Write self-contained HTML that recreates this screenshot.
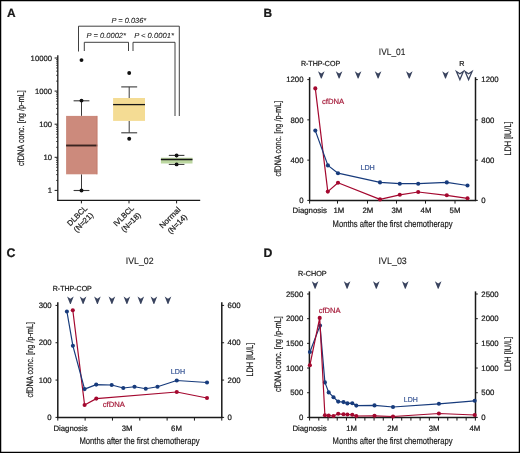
<!DOCTYPE html>
<html><head><meta charset="utf-8"><title>Figure</title>
<style>
html,body{margin:0;padding:0;background:#fff;}
body{width:520px;height:453px;overflow:hidden;font-family:"Liberation Sans", sans-serif;}
svg{display:block;will-change:transform;}
text{stroke:currentColor;stroke-width:0.22px;text-rendering:geometricPrecision;}
.cond{stroke-width:0.2px;}
.ttl{stroke-width:0.1px;}
.ital text{stroke-width:0.08px;}
</style></head>
<body>
<svg width="520" height="453" viewBox="0 0 520 453">
<rect x="0" y="0" width="520" height="453" fill="#fff"/>
<g font-family='"Liberation Sans", sans-serif' font-weight="bold">
<text x="7.0" y="16.9" font-size="11.9" text-anchor="start" fill="#1a1a1a" color="#1a1a1a"  style="">A</text>
<text x="263.4" y="16.9" font-size="11.9" text-anchor="start" fill="#1a1a1a" color="#1a1a1a"  style="">B</text>
<text x="6.6" y="256.6" font-size="12.4" text-anchor="start" fill="#1a1a1a" color="#1a1a1a"  style="">C</text>
<text x="263.5" y="257.1" font-size="12.3" text-anchor="start" fill="#1a1a1a" color="#1a1a1a"  style="">D</text>
</g>
<line x1="57.8" y1="55.2" x2="57.8" y2="201.0" stroke="#1a1a1a" stroke-width="1.3"/>
<line x1="57.199999999999996" y1="200.4" x2="200.2" y2="200.4" stroke="#1a1a1a" stroke-width="1.3"/>
<line x1="54.6" y1="190.4" x2="57.8" y2="190.4" stroke="#1a1a1a" stroke-width="1.0"/>
<text x="52.0" y="193.3" font-size="7.7" text-anchor="end" fill="#1a1a1a" color="#1a1a1a"  style="">1</text>
<line x1="56.0" y1="180.43590714352223" x2="57.8" y2="180.43590714352223" stroke="#1a1a1a" stroke-width="0.7"/>
<line x1="56.0" y1="174.6072864687792" x2="57.8" y2="174.6072864687792" stroke="#1a1a1a" stroke-width="0.7"/>
<line x1="56.0" y1="170.47181428704445" x2="57.8" y2="170.47181428704445" stroke="#1a1a1a" stroke-width="0.7"/>
<line x1="56.0" y1="167.2640928564778" x2="57.8" y2="167.2640928564778" stroke="#1a1a1a" stroke-width="0.7"/>
<line x1="56.0" y1="164.6431936123014" x2="57.8" y2="164.6431936123014" stroke="#1a1a1a" stroke-width="0.7"/>
<line x1="56.0" y1="162.4272548755281" x2="57.8" y2="162.4272548755281" stroke="#1a1a1a" stroke-width="0.7"/>
<line x1="56.0" y1="160.50772143056668" x2="57.8" y2="160.50772143056668" stroke="#1a1a1a" stroke-width="0.7"/>
<line x1="56.0" y1="158.81457293755835" x2="57.8" y2="158.81457293755835" stroke="#1a1a1a" stroke-width="0.7"/>
<line x1="54.6" y1="157.3" x2="57.8" y2="157.3" stroke="#1a1a1a" stroke-width="1.0"/>
<text x="52.0" y="160.20000000000002" font-size="7.7" text-anchor="end" fill="#1a1a1a" color="#1a1a1a"  style="">10</text>
<line x1="56.0" y1="147.33590714352223" x2="57.8" y2="147.33590714352223" stroke="#1a1a1a" stroke-width="0.7"/>
<line x1="56.0" y1="141.50728646877917" x2="57.8" y2="141.50728646877917" stroke="#1a1a1a" stroke-width="0.7"/>
<line x1="56.0" y1="137.37181428704446" x2="57.8" y2="137.37181428704446" stroke="#1a1a1a" stroke-width="0.7"/>
<line x1="56.0" y1="134.1640928564778" x2="57.8" y2="134.1640928564778" stroke="#1a1a1a" stroke-width="0.7"/>
<line x1="56.0" y1="131.5431936123014" x2="57.8" y2="131.5431936123014" stroke="#1a1a1a" stroke-width="0.7"/>
<line x1="56.0" y1="129.3272548755281" x2="57.8" y2="129.3272548755281" stroke="#1a1a1a" stroke-width="0.7"/>
<line x1="56.0" y1="127.40772143056668" x2="57.8" y2="127.40772143056668" stroke="#1a1a1a" stroke-width="0.7"/>
<line x1="56.0" y1="125.71457293755836" x2="57.8" y2="125.71457293755836" stroke="#1a1a1a" stroke-width="0.7"/>
<line x1="54.6" y1="124.2" x2="57.8" y2="124.2" stroke="#1a1a1a" stroke-width="1.0"/>
<text x="52.0" y="127.10000000000001" font-size="7.7" text-anchor="end" fill="#1a1a1a" color="#1a1a1a"  style="">100</text>
<line x1="56.0" y1="114.23590714352223" x2="57.8" y2="114.23590714352223" stroke="#1a1a1a" stroke-width="0.7"/>
<line x1="56.0" y1="108.40728646877918" x2="57.8" y2="108.40728646877918" stroke="#1a1a1a" stroke-width="0.7"/>
<line x1="56.0" y1="104.27181428704445" x2="57.8" y2="104.27181428704445" stroke="#1a1a1a" stroke-width="0.7"/>
<line x1="56.0" y1="101.06409285647777" x2="57.8" y2="101.06409285647777" stroke="#1a1a1a" stroke-width="0.7"/>
<line x1="56.0" y1="98.4431936123014" x2="57.8" y2="98.4431936123014" stroke="#1a1a1a" stroke-width="0.7"/>
<line x1="56.0" y1="96.2272548755281" x2="57.8" y2="96.2272548755281" stroke="#1a1a1a" stroke-width="0.7"/>
<line x1="56.0" y1="94.30772143056667" x2="57.8" y2="94.30772143056667" stroke="#1a1a1a" stroke-width="0.7"/>
<line x1="56.0" y1="92.61457293755835" x2="57.8" y2="92.61457293755835" stroke="#1a1a1a" stroke-width="0.7"/>
<line x1="54.6" y1="91.1" x2="57.8" y2="91.1" stroke="#1a1a1a" stroke-width="1.0"/>
<text x="52.0" y="94.0" font-size="7.7" text-anchor="end" fill="#1a1a1a" color="#1a1a1a"  style="">1000</text>
<line x1="56.0" y1="81.13590714352222" x2="57.8" y2="81.13590714352222" stroke="#1a1a1a" stroke-width="0.7"/>
<line x1="56.0" y1="75.30728646877917" x2="57.8" y2="75.30728646877917" stroke="#1a1a1a" stroke-width="0.7"/>
<line x1="56.0" y1="71.17181428704444" x2="57.8" y2="71.17181428704444" stroke="#1a1a1a" stroke-width="0.7"/>
<line x1="56.0" y1="67.96409285647778" x2="57.8" y2="67.96409285647778" stroke="#1a1a1a" stroke-width="0.7"/>
<line x1="56.0" y1="65.34319361230139" x2="57.8" y2="65.34319361230139" stroke="#1a1a1a" stroke-width="0.7"/>
<line x1="56.0" y1="63.127254875528095" x2="57.8" y2="63.127254875528095" stroke="#1a1a1a" stroke-width="0.7"/>
<line x1="56.0" y1="61.207721430566664" x2="57.8" y2="61.207721430566664" stroke="#1a1a1a" stroke-width="0.7"/>
<line x1="56.0" y1="59.51457293755834" x2="57.8" y2="59.51457293755834" stroke="#1a1a1a" stroke-width="0.7"/>
<line x1="54.6" y1="58.0" x2="57.8" y2="58.0" stroke="#1a1a1a" stroke-width="1.0"/>
<text x="52.0" y="60.9" font-size="7.7" text-anchor="end" fill="#1a1a1a" color="#1a1a1a"  style="">10000</text>
<line x1="81.4" y1="200.4" x2="81.4" y2="203.4" stroke="#1a1a1a" stroke-width="1.0"/>
<line x1="129.0" y1="200.4" x2="129.0" y2="203.4" stroke="#1a1a1a" stroke-width="1.0"/>
<line x1="176.6" y1="200.4" x2="176.6" y2="203.4" stroke="#1a1a1a" stroke-width="1.0"/>
<line x1="81.5" y1="100.8" x2="81.5" y2="115.9" stroke="#3a3a3a" stroke-width="1.0"/>
<line x1="81.5" y1="174.3" x2="81.5" y2="190.5" stroke="#3a3a3a" stroke-width="1.0"/>
<line x1="73.6" y1="100.8" x2="89.4" y2="100.8" stroke="#3a3a3a" stroke-width="1.1"/>
<line x1="73.6" y1="190.5" x2="89.4" y2="190.5" stroke="#3a3a3a" stroke-width="1.1"/>
<rect x="66.1" y="115.9" width="31.200000000000003" height="58.400000000000006" fill="#cc8a7c"/>
<line x1="66.1" y1="145.5" x2="97.3" y2="145.5" stroke="#3a2420" stroke-width="1.9"/>
<rect x="96.5" y="115.9" width="0.9" height="58.4" fill="#c47a6c"/>
<line x1="129.2" y1="86.9" x2="129.2" y2="98.0" stroke="#3a3a3a" stroke-width="1.0"/>
<line x1="129.2" y1="120.9" x2="129.2" y2="132.8" stroke="#3a3a3a" stroke-width="1.0"/>
<line x1="121.24999999999999" y1="86.9" x2="137.14999999999998" y2="86.9" stroke="#3a3a3a" stroke-width="1.1"/>
<line x1="121.24999999999999" y1="132.8" x2="137.14999999999998" y2="132.8" stroke="#3a3a3a" stroke-width="1.1"/>
<rect x="113.1" y="98.0" width="31.900000000000006" height="22.900000000000006" fill="#f4dc94"/>
<line x1="113.1" y1="104.6" x2="145.0" y2="104.6" stroke="#151515" stroke-width="1.3"/>
<line x1="176.6" y1="155.4" x2="176.6" y2="157.7" stroke="#3a3a3a" stroke-width="1.0"/>
<line x1="176.6" y1="163.5" x2="176.6" y2="164.4" stroke="#3a3a3a" stroke-width="1.0"/>
<line x1="168.79999999999998" y1="155.4" x2="184.4" y2="155.4" stroke="#3a3a3a" stroke-width="1.1"/>
<line x1="168.79999999999998" y1="164.4" x2="184.4" y2="164.4" stroke="#3a3a3a" stroke-width="1.1"/>
<rect x="160.9" y="157.7" width="31.599999999999994" height="5.800000000000011" fill="#bcd7a0"/>
<line x1="160.9" y1="159.5" x2="192.5" y2="159.5" stroke="#151515" stroke-width="1.3"/>
<circle cx="81.5" cy="60.1" r="1.95" fill="#111"/>
<circle cx="81.5" cy="100.6" r="1.95" fill="#111"/>
<circle cx="81.5" cy="190.5" r="1.95" fill="#111"/>
<circle cx="129.2" cy="73.0" r="1.95" fill="#111"/>
<circle cx="129.2" cy="138.8" r="1.95" fill="#111"/>
<circle cx="176.6" cy="155.4" r="1.95" fill="#111"/>
<circle cx="176.6" cy="164.4" r="1.95" fill="#111"/>
<path d="M78.5,51.5 V26.2 H179.3 V116" fill="none" stroke="#2a2a2a" stroke-width="0.9"/>
<path d="M84.3,51 V42.3 H128.5 V51" fill="none" stroke="#2a2a2a" stroke-width="0.9"/>
<path d="M133,51 V42.3 H175 V116" fill="none" stroke="#2a2a2a" stroke-width="0.9"/>
<g font-family='"Liberation Sans", sans-serif' font-style="italic" class="ital">
<text x="128.9" y="22.6" font-size="7.4" text-anchor="middle" fill="#1a1a1a" color="#1a1a1a" textLength="34.7" lengthAdjust="spacingAndGlyphs"  style="">P = 0.036*</text>
<text x="106.3" y="38.0" font-size="7.4" text-anchor="middle" fill="#1a1a1a" color="#1a1a1a" textLength="39.4" lengthAdjust="spacingAndGlyphs"  style="">P = 0.0002*</text>
<text x="154.0" y="38.0" font-size="7.4" text-anchor="middle" fill="#1a1a1a" color="#1a1a1a" textLength="39.7" lengthAdjust="spacingAndGlyphs"  style="">P &lt; 0.0001*</text>
</g>
<g font-family='"Liberation Sans", sans-serif'>
<text transform="translate(24.2,128.1) rotate(-90) scale(0.7886,1)" x="0" y="0" font-size="9.4" text-anchor="middle" fill="#1a1a1a" color="#1a1a1a" class="cond">cfDNA conc. [ng /p-mL]</text>
<text transform="translate(79.00,217.65) rotate(-45)" x="0" y="0" font-size="7.8" text-anchor="middle" fill="#1a1a1a" color="#1a1a1a" textLength="24.7" lengthAdjust="spacingAndGlyphs">DLBCL</text>
<text transform="translate(125.50,217.85) rotate(-45)" x="0" y="0" font-size="7.8" text-anchor="middle" fill="#1a1a1a" color="#1a1a1a" textLength="25.5" lengthAdjust="spacingAndGlyphs">IVLBCL</text>
<text transform="translate(171.70,219.55) rotate(-45)" x="0" y="0" font-size="7.8" text-anchor="middle" fill="#1a1a1a" color="#1a1a1a" textLength="26.1" lengthAdjust="spacingAndGlyphs">Normal</text>
<text transform="translate(85.30,224.2) rotate(-45)" x="0" y="0" font-size="7.8" text-anchor="middle" fill="#1a1a1a" color="#1a1a1a" textLength="23.9" lengthAdjust="spacingAndGlyphs">(N=21)</text>
<text transform="translate(132.80,224.1) rotate(-45)" x="0" y="0" font-size="7.8" text-anchor="middle" fill="#1a1a1a" color="#1a1a1a" textLength="23.9" lengthAdjust="spacingAndGlyphs">(N=18)</text>
<text transform="translate(179.10,225.9) rotate(-45)" x="0" y="0" font-size="7.8" text-anchor="middle" fill="#1a1a1a" color="#1a1a1a" textLength="23.9" lengthAdjust="spacingAndGlyphs">(N=14)</text>
</g>
<g font-family='"Liberation Sans", sans-serif'>
<line x1="309.6" y1="77.2" x2="309.6" y2="201.1" stroke="#1a1a1a" stroke-width="1.5"/>
<line x1="475.5" y1="77.2" x2="475.5" y2="201.1" stroke="#1a1a1a" stroke-width="1.5"/>
<line x1="308.90000000000003" y1="200.4" x2="476.2" y2="200.4" stroke="#1a1a1a" stroke-width="1.5"/>
<line x1="307.3" y1="200.4" x2="309.6" y2="200.4" stroke="#1a1a1a" stroke-width="1.0"/>
<text x="303.5" y="203.15" font-size="7.8" text-anchor="end" fill="#1a1a1a" color="#1a1a1a"  style="">0</text>
<line x1="307.3" y1="160.13" x2="309.6" y2="160.13" stroke="#1a1a1a" stroke-width="1.0"/>
<text x="303.5" y="162.88" font-size="7.8" text-anchor="end" fill="#1a1a1a" color="#1a1a1a"  style="">400</text>
<line x1="307.3" y1="119.86" x2="309.6" y2="119.86" stroke="#1a1a1a" stroke-width="1.0"/>
<text x="303.5" y="122.61" font-size="7.8" text-anchor="end" fill="#1a1a1a" color="#1a1a1a"  style="">800</text>
<line x1="307.3" y1="79.59" x2="309.6" y2="79.59" stroke="#1a1a1a" stroke-width="1.0"/>
<text x="303.5" y="82.34" font-size="7.8" text-anchor="end" fill="#1a1a1a" color="#1a1a1a"  style="">1200</text>
<line x1="475.5" y1="200.4" x2="477.8" y2="200.4" stroke="#1a1a1a" stroke-width="1.0"/>
<text x="481.3" y="203.15" font-size="7.8" text-anchor="start" fill="#1a1a1a" color="#1a1a1a"  style="">0</text>
<line x1="475.5" y1="160.13" x2="477.8" y2="160.13" stroke="#1a1a1a" stroke-width="1.0"/>
<text x="481.3" y="162.88" font-size="7.8" text-anchor="start" fill="#1a1a1a" color="#1a1a1a"  style="">400</text>
<line x1="475.5" y1="119.86" x2="477.8" y2="119.86" stroke="#1a1a1a" stroke-width="1.0"/>
<text x="481.3" y="122.61" font-size="7.8" text-anchor="start" fill="#1a1a1a" color="#1a1a1a"  style="">800</text>
<line x1="475.5" y1="79.59" x2="477.8" y2="79.59" stroke="#1a1a1a" stroke-width="1.0"/>
<text x="481.3" y="82.34" font-size="7.8" text-anchor="start" fill="#1a1a1a" color="#1a1a1a"  style="">1200</text>
<line x1="309.6" y1="200.4" x2="309.6" y2="203.6" stroke="#1a1a1a" stroke-width="1.0"/>
<line x1="337.5" y1="200.4" x2="337.5" y2="203.6" stroke="#1a1a1a" stroke-width="1.0"/>
<line x1="367.5" y1="200.4" x2="367.5" y2="203.6" stroke="#1a1a1a" stroke-width="1.0"/>
<line x1="396.5" y1="200.4" x2="396.5" y2="203.6" stroke="#1a1a1a" stroke-width="1.0"/>
<line x1="425.5" y1="200.4" x2="425.5" y2="203.6" stroke="#1a1a1a" stroke-width="1.0"/>
<line x1="455.0" y1="200.4" x2="455.0" y2="203.6" stroke="#1a1a1a" stroke-width="1.0"/>
<text x="309.7" y="213.3" font-size="7.8" text-anchor="middle" fill="#1a1a1a" color="#1a1a1a"  style="">Diagnosis</text>
<text x="338.9" y="213.3" font-size="7.8" text-anchor="middle" fill="#1a1a1a" color="#1a1a1a"  style="">1M</text>
<text x="367.8" y="213.3" font-size="7.8" text-anchor="middle" fill="#1a1a1a" color="#1a1a1a"  style="">2M</text>
<text x="396.8" y="213.3" font-size="7.8" text-anchor="middle" fill="#1a1a1a" color="#1a1a1a"  style="">3M</text>
<text x="426.0" y="213.3" font-size="7.8" text-anchor="middle" fill="#1a1a1a" color="#1a1a1a"  style="">4M</text>
<text x="455.0" y="213.3" font-size="7.8" text-anchor="middle" fill="#1a1a1a" color="#1a1a1a"  style="">5M</text>
<text transform="translate(392.5,226.7) scale(0.8131,1)" x="0" y="0" font-size="9.4" text-anchor="middle" fill="#1a1a1a" color="#1a1a1a" class="cond">Months after the first chemotherapy</text>
<text transform="translate(280.6,138.55) rotate(-90) scale(0.7855,1)" x="0" y="0" font-size="9.4" text-anchor="middle" fill="#1a1a1a" color="#1a1a1a" class="cond">cfDNA conc. [ng /p-mL]</text>
<text transform="translate(511.2,138.55) rotate(-90) scale(0.7772,1)" x="0" y="0" font-size="9.4" text-anchor="middle" fill="#1a1a1a" color="#1a1a1a" class="cond">LDH [IU/L]</text>
<text x="378.8" y="54.5" font-size="9.4" text-anchor="start" fill="#1a1a1a" color="#1a1a1a" textLength="26.6" lengthAdjust="spacingAndGlyphs" class="ttl" style="">IVL_01</text>
<text x="300.9" y="66.4" font-size="7.3" text-anchor="start" fill="#1a1a1a" color="#1a1a1a" textLength="39.3" lengthAdjust="spacingAndGlyphs"  style="">R-THP-COP</text>
<path d="M318.00,71.2 L321.30,73.50 L324.60,71.2 L321.65,78.60 L320.95,78.60 Z" fill="#39435e"/>
<path d="M335.80,71.2 L339.10,73.50 L342.40,71.2 L339.45,78.60 L338.75,78.60 Z" fill="#39435e"/>
<path d="M354.80,71.2 L358.10,73.50 L361.40,71.2 L358.45,78.60 L357.75,78.60 Z" fill="#39435e"/>
<path d="M374.80,71.2 L378.10,73.50 L381.40,71.2 L378.45,78.60 L377.75,78.60 Z" fill="#39435e"/>
<path d="M406.00,71.2 L409.30,73.50 L412.60,71.2 L409.65,78.60 L408.95,78.60 Z" fill="#39435e"/>
<path d="M442.20,71.2 L445.50,73.50 L448.80,71.2 L445.85,78.60 L445.15,78.60 Z" fill="#39435e"/>
<path d="M456.40,71.5 L459.90,73.80 L463.40,71.5 L459.90,79.60 Z" fill="none" stroke="#39435e" stroke-width="1.25" stroke-linejoin="miter"/>
<path d="M465.10,71.5 L468.60,73.80 L472.10,71.5 L468.60,79.60 Z" fill="none" stroke="#39435e" stroke-width="1.25" stroke-linejoin="miter"/>
<text x="461.9" y="66.4" font-size="7.2" text-anchor="middle" fill="#1a1a1a" color="#1a1a1a"  style="">R</text>
</g>
<polyline points="315.3,88.4 327.8,191.6 338,182.7 380,199.4 399.8,194.8 418.2,192 446.8,195.3 467.5,198.3" fill="none" stroke="#a4082f" stroke-width="1.2" stroke-linejoin="round"/>
<circle cx="315.3" cy="88.4" r="2.05" fill="#a4082f"/>
<circle cx="327.8" cy="191.6" r="2.05" fill="#a4082f"/>
<circle cx="338" cy="182.7" r="2.05" fill="#a4082f"/>
<circle cx="380" cy="199.4" r="2.05" fill="#a4082f"/>
<circle cx="399.8" cy="194.8" r="2.05" fill="#a4082f"/>
<circle cx="418.2" cy="192" r="2.05" fill="#a4082f"/>
<circle cx="446.8" cy="195.3" r="2.05" fill="#a4082f"/>
<circle cx="467.5" cy="198.3" r="2.05" fill="#a4082f"/>
<polyline points="315.3,130.6 327.9,165.4 338,173.2 380,182.4 399.8,183.7 418.2,183.7 446.8,182.4 467.5,185.5" fill="none" stroke="#173b7c" stroke-width="1.2" stroke-linejoin="round"/>
<circle cx="315.3" cy="130.6" r="2.05" fill="#173b7c"/>
<circle cx="327.9" cy="165.4" r="2.05" fill="#173b7c"/>
<circle cx="338" cy="173.2" r="2.05" fill="#173b7c"/>
<circle cx="380" cy="182.4" r="2.05" fill="#173b7c"/>
<circle cx="399.8" cy="183.7" r="2.05" fill="#173b7c"/>
<circle cx="418.2" cy="183.7" r="2.05" fill="#173b7c"/>
<circle cx="446.8" cy="182.4" r="2.05" fill="#173b7c"/>
<circle cx="467.5" cy="185.5" r="2.05" fill="#173b7c"/>
<g font-family='"Liberation Sans", sans-serif'>
<text x="360.4" y="169.6" font-size="7.2" text-anchor="start" fill="#3d5a98" color="#3d5a98" textLength="14.4" lengthAdjust="spacingAndGlyphs"  style="">LDH</text>
<text x="322.0" y="104.0" font-size="7.6" text-anchor="start" fill="#a8213f" color="#a8213f" textLength="22.2" lengthAdjust="spacingAndGlyphs"  style="">cfDNA</text>
</g>
<g font-family='"Liberation Sans", sans-serif'>
<line x1="57.8" y1="302.3" x2="57.8" y2="418.09999999999997" stroke="#1a1a1a" stroke-width="1.5"/>
<line x1="221.8" y1="302.3" x2="221.8" y2="418.09999999999997" stroke="#1a1a1a" stroke-width="1.5"/>
<line x1="57.099999999999994" y1="417.4" x2="222.5" y2="417.4" stroke="#1a1a1a" stroke-width="1.5"/>
<line x1="55.5" y1="417.4" x2="57.8" y2="417.4" stroke="#1a1a1a" stroke-width="1.0"/>
<text x="51.699999999999996" y="420.15" font-size="7.8" text-anchor="end" fill="#1a1a1a" color="#1a1a1a"  style="">0</text>
<line x1="55.5" y1="380.07" x2="57.8" y2="380.07" stroke="#1a1a1a" stroke-width="1.0"/>
<text x="51.699999999999996" y="382.82" font-size="7.8" text-anchor="end" fill="#1a1a1a" color="#1a1a1a"  style="">100</text>
<line x1="55.5" y1="342.74" x2="57.8" y2="342.74" stroke="#1a1a1a" stroke-width="1.0"/>
<text x="51.699999999999996" y="345.49" font-size="7.8" text-anchor="end" fill="#1a1a1a" color="#1a1a1a"  style="">200</text>
<line x1="55.5" y1="305.40999999999997" x2="57.8" y2="305.40999999999997" stroke="#1a1a1a" stroke-width="1.0"/>
<text x="51.699999999999996" y="308.15999999999997" font-size="7.8" text-anchor="end" fill="#1a1a1a" color="#1a1a1a"  style="">300</text>
<line x1="221.8" y1="417.4" x2="224.10000000000002" y2="417.4" stroke="#1a1a1a" stroke-width="1.0"/>
<text x="227.60000000000002" y="420.15" font-size="7.8" text-anchor="start" fill="#1a1a1a" color="#1a1a1a"  style="">0</text>
<line x1="221.8" y1="380.07" x2="224.10000000000002" y2="380.07" stroke="#1a1a1a" stroke-width="1.0"/>
<text x="227.60000000000002" y="382.82" font-size="7.8" text-anchor="start" fill="#1a1a1a" color="#1a1a1a"  style="">200</text>
<line x1="221.8" y1="342.74" x2="224.10000000000002" y2="342.74" stroke="#1a1a1a" stroke-width="1.0"/>
<text x="227.60000000000002" y="345.49" font-size="7.8" text-anchor="start" fill="#1a1a1a" color="#1a1a1a"  style="">400</text>
<line x1="221.8" y1="305.40999999999997" x2="224.10000000000002" y2="305.40999999999997" stroke="#1a1a1a" stroke-width="1.0"/>
<text x="227.60000000000002" y="308.15999999999997" font-size="7.8" text-anchor="start" fill="#1a1a1a" color="#1a1a1a"  style="">600</text>
<line x1="57.8" y1="417.4" x2="57.8" y2="420.59999999999997" stroke="#1a1a1a" stroke-width="1.0"/>
<line x1="85.13" y1="417.4" x2="85.13" y2="420.59999999999997" stroke="#1a1a1a" stroke-width="1.0"/>
<line x1="112.46" y1="417.4" x2="112.46" y2="420.59999999999997" stroke="#1a1a1a" stroke-width="1.0"/>
<line x1="139.79" y1="417.4" x2="139.79" y2="420.59999999999997" stroke="#1a1a1a" stroke-width="1.0"/>
<line x1="167.12" y1="417.4" x2="167.12" y2="420.59999999999997" stroke="#1a1a1a" stroke-width="1.0"/>
<line x1="194.45" y1="417.4" x2="194.45" y2="420.59999999999997" stroke="#1a1a1a" stroke-width="1.0"/>
<line x1="221.77999999999997" y1="417.4" x2="221.77999999999997" y2="420.59999999999997" stroke="#1a1a1a" stroke-width="1.0"/>
<text x="70.5" y="430.9" font-size="7.8" text-anchor="middle" fill="#1a1a1a" color="#1a1a1a"  style="">Diagnosis</text>
<text x="127.1" y="430.9" font-size="7.8" text-anchor="middle" fill="#1a1a1a" color="#1a1a1a"  style="">3M</text>
<text x="176.5" y="430.9" font-size="7.8" text-anchor="middle" fill="#1a1a1a" color="#1a1a1a"  style="">6M</text>
<text transform="translate(139.55,443.8) scale(0.8152,1)" x="0" y="0" font-size="9.4" text-anchor="middle" fill="#1a1a1a" color="#1a1a1a" class="cond">Months after the first chemotherapy</text>
<text transform="translate(33.0,359.65) rotate(-90) scale(0.7835,1)" x="0" y="0" font-size="9.4" text-anchor="middle" fill="#1a1a1a" color="#1a1a1a" class="cond">cfDNA conc. [ng /p-mL]</text>
<text transform="translate(252.6,359.65) rotate(-90) scale(0.7727,1)" x="0" y="0" font-size="9.4" text-anchor="middle" fill="#1a1a1a" color="#1a1a1a" class="cond">LDH [IU/L]</text>
<text x="125.8" y="264.2" font-size="9.4" text-anchor="start" fill="#1a1a1a" color="#1a1a1a" textLength="27.8" lengthAdjust="spacingAndGlyphs" class="ttl" style="">IVL_02</text>
<text x="52.8" y="290.8" font-size="7.3" text-anchor="start" fill="#1a1a1a" color="#1a1a1a" textLength="39.0" lengthAdjust="spacingAndGlyphs"  style="">R-THP-COP</text>
<path d="M67.10,296.5 L70.40,298.80 L73.70,296.5 L70.75,303.90 L70.05,303.90 Z" fill="#39435e"/>
<path d="M79.80,296.5 L83.10,298.80 L86.40,296.5 L83.45,303.90 L82.75,303.90 Z" fill="#39435e"/>
<path d="M94.10,296.5 L97.40,298.80 L100.70,296.5 L97.75,303.90 L97.05,303.90 Z" fill="#39435e"/>
<path d="M108.60,296.5 L111.90,298.80 L115.20,296.5 L112.25,303.90 L111.55,303.90 Z" fill="#39435e"/>
<path d="M123.60,296.5 L126.90,298.80 L130.20,296.5 L127.25,303.90 L126.55,303.90 Z" fill="#39435e"/>
<path d="M137.50,296.5 L140.80,298.80 L144.10,296.5 L141.15,303.90 L140.45,303.90 Z" fill="#39435e"/>
<path d="M150.60,296.5 L153.90,298.80 L157.20,296.5 L154.25,303.90 L153.55,303.90 Z" fill="#39435e"/>
<path d="M164.70,296.5 L168.00,298.80 L171.30,296.5 L168.35,303.90 L167.65,303.90 Z" fill="#39435e"/>
</g>
<polyline points="72.8,310.3 84.6,405 96.3,398.6 176.75,392 207,398" fill="none" stroke="#a4082f" stroke-width="1.2" stroke-linejoin="round"/>
<circle cx="72.8" cy="310.3" r="2.05" fill="#a4082f"/>
<circle cx="84.6" cy="405" r="2.05" fill="#a4082f"/>
<circle cx="96.3" cy="398.6" r="2.05" fill="#a4082f"/>
<circle cx="176.75" cy="392" r="2.05" fill="#a4082f"/>
<circle cx="207" cy="398" r="2.05" fill="#a4082f"/>
<polyline points="66.9,311.5 72.9,345.8 84.6,389.1 96.2,384.6 111.7,385 123.3,388 134.5,386.75 145.75,388.75 157.5,386.75 176.75,380.5 207,382.5" fill="none" stroke="#173b7c" stroke-width="1.2" stroke-linejoin="round"/>
<circle cx="66.9" cy="311.5" r="2.05" fill="#173b7c"/>
<circle cx="72.9" cy="345.8" r="2.05" fill="#173b7c"/>
<circle cx="84.6" cy="389.1" r="2.05" fill="#173b7c"/>
<circle cx="96.2" cy="384.6" r="2.05" fill="#173b7c"/>
<circle cx="111.7" cy="385" r="2.05" fill="#173b7c"/>
<circle cx="123.3" cy="388" r="2.05" fill="#173b7c"/>
<circle cx="134.5" cy="386.75" r="2.05" fill="#173b7c"/>
<circle cx="145.75" cy="388.75" r="2.05" fill="#173b7c"/>
<circle cx="157.5" cy="386.75" r="2.05" fill="#173b7c"/>
<circle cx="176.75" cy="380.5" r="2.05" fill="#173b7c"/>
<circle cx="207" cy="382.5" r="2.05" fill="#173b7c"/>
<g font-family='"Liberation Sans", sans-serif'>
<text x="170.75" y="374.1" font-size="7.2" text-anchor="start" fill="#3d5a98" color="#3d5a98" textLength="14.3" lengthAdjust="spacingAndGlyphs"  style="">LDH</text>
<text x="102.7" y="407.2" font-size="7.6" text-anchor="start" fill="#a8213f" color="#a8213f" textLength="22.1" lengthAdjust="spacingAndGlyphs"  style="">cfDNA</text>
</g>
<g font-family='"Liberation Sans", sans-serif'>
<line x1="309.4" y1="291.4" x2="309.4" y2="418.09999999999997" stroke="#1a1a1a" stroke-width="1.5"/>
<line x1="475.5" y1="291.4" x2="475.5" y2="418.09999999999997" stroke="#1a1a1a" stroke-width="1.5"/>
<line x1="308.7" y1="417.4" x2="476.2" y2="417.4" stroke="#1a1a1a" stroke-width="1.5"/>
<line x1="307.09999999999997" y1="417.4" x2="309.4" y2="417.4" stroke="#1a1a1a" stroke-width="1.0"/>
<text x="303.29999999999995" y="420.15" font-size="7.8" text-anchor="end" fill="#1a1a1a" color="#1a1a1a"  style="">0</text>
<line x1="307.09999999999997" y1="392.71999999999997" x2="309.4" y2="392.71999999999997" stroke="#1a1a1a" stroke-width="1.0"/>
<text x="303.29999999999995" y="395.46999999999997" font-size="7.8" text-anchor="end" fill="#1a1a1a" color="#1a1a1a"  style="">500</text>
<line x1="307.09999999999997" y1="368.03999999999996" x2="309.4" y2="368.03999999999996" stroke="#1a1a1a" stroke-width="1.0"/>
<text x="303.29999999999995" y="370.78999999999996" font-size="7.8" text-anchor="end" fill="#1a1a1a" color="#1a1a1a"  style="">1000</text>
<line x1="307.09999999999997" y1="343.36" x2="309.4" y2="343.36" stroke="#1a1a1a" stroke-width="1.0"/>
<text x="303.29999999999995" y="346.11" font-size="7.8" text-anchor="end" fill="#1a1a1a" color="#1a1a1a"  style="">1500</text>
<line x1="307.09999999999997" y1="318.67999999999995" x2="309.4" y2="318.67999999999995" stroke="#1a1a1a" stroke-width="1.0"/>
<text x="303.29999999999995" y="321.42999999999995" font-size="7.8" text-anchor="end" fill="#1a1a1a" color="#1a1a1a"  style="">2000</text>
<line x1="307.09999999999997" y1="294.0" x2="309.4" y2="294.0" stroke="#1a1a1a" stroke-width="1.0"/>
<text x="303.29999999999995" y="296.75" font-size="7.8" text-anchor="end" fill="#1a1a1a" color="#1a1a1a"  style="">2500</text>
<line x1="475.5" y1="417.4" x2="477.8" y2="417.4" stroke="#1a1a1a" stroke-width="1.0"/>
<text x="481.3" y="420.15" font-size="7.8" text-anchor="start" fill="#1a1a1a" color="#1a1a1a"  style="">0</text>
<line x1="475.5" y1="392.71999999999997" x2="477.8" y2="392.71999999999997" stroke="#1a1a1a" stroke-width="1.0"/>
<text x="481.3" y="395.46999999999997" font-size="7.8" text-anchor="start" fill="#1a1a1a" color="#1a1a1a"  style="">500</text>
<line x1="475.5" y1="368.03999999999996" x2="477.8" y2="368.03999999999996" stroke="#1a1a1a" stroke-width="1.0"/>
<text x="481.3" y="370.78999999999996" font-size="7.8" text-anchor="start" fill="#1a1a1a" color="#1a1a1a"  style="">1000</text>
<line x1="475.5" y1="343.36" x2="477.8" y2="343.36" stroke="#1a1a1a" stroke-width="1.0"/>
<text x="481.3" y="346.11" font-size="7.8" text-anchor="start" fill="#1a1a1a" color="#1a1a1a"  style="">1500</text>
<line x1="475.5" y1="318.67999999999995" x2="477.8" y2="318.67999999999995" stroke="#1a1a1a" stroke-width="1.0"/>
<text x="481.3" y="321.42999999999995" font-size="7.8" text-anchor="start" fill="#1a1a1a" color="#1a1a1a"  style="">2000</text>
<line x1="475.5" y1="294.0" x2="477.8" y2="294.0" stroke="#1a1a1a" stroke-width="1.0"/>
<text x="481.3" y="296.75" font-size="7.8" text-anchor="start" fill="#1a1a1a" color="#1a1a1a"  style="">2500</text>
<line x1="309.6" y1="417.4" x2="309.6" y2="420.59999999999997" stroke="#1a1a1a" stroke-width="1.0"/>
<line x1="318.81" y1="417.4" x2="318.81" y2="420.59999999999997" stroke="#1a1a1a" stroke-width="1.0"/>
<line x1="328.02000000000004" y1="417.4" x2="328.02000000000004" y2="420.59999999999997" stroke="#1a1a1a" stroke-width="1.0"/>
<line x1="337.23" y1="417.4" x2="337.23" y2="420.59999999999997" stroke="#1a1a1a" stroke-width="1.0"/>
<line x1="346.44000000000005" y1="417.4" x2="346.44000000000005" y2="420.59999999999997" stroke="#1a1a1a" stroke-width="1.0"/>
<line x1="355.65000000000003" y1="417.4" x2="355.65000000000003" y2="420.59999999999997" stroke="#1a1a1a" stroke-width="1.0"/>
<line x1="364.86" y1="417.4" x2="364.86" y2="420.59999999999997" stroke="#1a1a1a" stroke-width="1.0"/>
<line x1="374.07000000000005" y1="417.4" x2="374.07000000000005" y2="420.59999999999997" stroke="#1a1a1a" stroke-width="1.0"/>
<line x1="383.28000000000003" y1="417.4" x2="383.28000000000003" y2="420.59999999999997" stroke="#1a1a1a" stroke-width="1.0"/>
<line x1="392.49" y1="417.4" x2="392.49" y2="420.59999999999997" stroke="#1a1a1a" stroke-width="1.0"/>
<line x1="401.70000000000005" y1="417.4" x2="401.70000000000005" y2="420.59999999999997" stroke="#1a1a1a" stroke-width="1.0"/>
<line x1="410.91" y1="417.4" x2="410.91" y2="420.59999999999997" stroke="#1a1a1a" stroke-width="1.0"/>
<line x1="420.12" y1="417.4" x2="420.12" y2="420.59999999999997" stroke="#1a1a1a" stroke-width="1.0"/>
<line x1="429.33000000000004" y1="417.4" x2="429.33000000000004" y2="420.59999999999997" stroke="#1a1a1a" stroke-width="1.0"/>
<line x1="438.54" y1="417.4" x2="438.54" y2="420.59999999999997" stroke="#1a1a1a" stroke-width="1.0"/>
<line x1="447.75" y1="417.4" x2="447.75" y2="420.59999999999997" stroke="#1a1a1a" stroke-width="1.0"/>
<line x1="456.96000000000004" y1="417.4" x2="456.96000000000004" y2="420.59999999999997" stroke="#1a1a1a" stroke-width="1.0"/>
<line x1="466.1700000000001" y1="417.4" x2="466.1700000000001" y2="420.59999999999997" stroke="#1a1a1a" stroke-width="1.0"/>
<line x1="475.38000000000005" y1="417.4" x2="475.38000000000005" y2="420.59999999999997" stroke="#1a1a1a" stroke-width="1.0"/>
<text x="309.5" y="430.5" font-size="7.8" text-anchor="middle" fill="#1a1a1a" color="#1a1a1a"  style="">Diagnosis</text>
<text x="351.6" y="430.5" font-size="7.8" text-anchor="middle" fill="#1a1a1a" color="#1a1a1a"  style="">1M</text>
<text x="392.7" y="430.5" font-size="7.8" text-anchor="middle" fill="#1a1a1a" color="#1a1a1a"  style="">2M</text>
<text x="434.2" y="430.5" font-size="7.8" text-anchor="middle" fill="#1a1a1a" color="#1a1a1a"  style="">3M</text>
<text x="474.8" y="430.5" font-size="7.8" text-anchor="middle" fill="#1a1a1a" color="#1a1a1a"  style="">4M</text>
<text transform="translate(392.5,443.8) scale(0.8131,1)" x="0" y="0" font-size="9.4" text-anchor="middle" fill="#1a1a1a" color="#1a1a1a" class="cond">Months after the first chemotherapy</text>
<text transform="translate(280.7,354.05) rotate(-90) scale(0.7876,1)" x="0" y="0" font-size="9.4" text-anchor="middle" fill="#1a1a1a" color="#1a1a1a" class="cond">cfDNA conc. [ng /p-mL]</text>
<text transform="translate(511.4,353.9) rotate(-90) scale(0.7841,1)" x="0" y="0" font-size="9.4" text-anchor="middle" fill="#1a1a1a" color="#1a1a1a" class="cond">LDH [IU/L]</text>
<text x="378.6" y="264.2" font-size="9.4" text-anchor="start" fill="#1a1a1a" color="#1a1a1a" textLength="28.2" lengthAdjust="spacingAndGlyphs" class="ttl" style="">IVL_03</text>
<text x="298.1" y="276.2" font-size="7.3" text-anchor="start" fill="#1a1a1a" color="#1a1a1a" textLength="28.6" lengthAdjust="spacingAndGlyphs"  style="">R-CHOP</text>
<path d="M311.80,281.3 L315.10,283.60 L318.40,281.3 L315.45,288.70 L314.75,288.70 Z" fill="#39435e"/>
<path d="M343.80,281.3 L347.10,283.60 L350.40,281.3 L347.45,288.70 L346.75,288.70 Z" fill="#39435e"/>
<path d="M373.00,281.3 L376.30,283.60 L379.60,281.3 L376.65,288.70 L375.95,288.70 Z" fill="#39435e"/>
<path d="M402.00,281.3 L405.30,283.60 L408.60,281.3 L405.65,288.70 L404.95,288.70 Z" fill="#39435e"/>
<path d="M434.90,281.3 L438.20,283.60 L441.50,281.3 L438.55,288.70 L437.85,288.70 Z" fill="#39435e"/>
</g>
<polyline points="309.9,352 320,325.6 324.9,382.4 328.7,392.4 333.5,397.2 338.2,401.6 343.5,402.1 347.4,403.4 352.3,403.2 356.3,405.6 374.5,405.4 393,407 438.9,403.8 474.7,400.8" fill="none" stroke="#173b7c" stroke-width="1.2" stroke-linejoin="round"/>
<circle cx="309.9" cy="352" r="2.05" fill="#173b7c"/>
<circle cx="320" cy="325.6" r="2.05" fill="#173b7c"/>
<circle cx="324.9" cy="382.4" r="2.05" fill="#173b7c"/>
<circle cx="328.7" cy="392.4" r="2.05" fill="#173b7c"/>
<circle cx="333.5" cy="397.2" r="2.05" fill="#173b7c"/>
<circle cx="338.2" cy="401.6" r="2.05" fill="#173b7c"/>
<circle cx="343.5" cy="402.1" r="2.05" fill="#173b7c"/>
<circle cx="347.4" cy="403.4" r="2.05" fill="#173b7c"/>
<circle cx="352.3" cy="403.2" r="2.05" fill="#173b7c"/>
<circle cx="356.3" cy="405.6" r="2.05" fill="#173b7c"/>
<circle cx="374.5" cy="405.4" r="2.05" fill="#173b7c"/>
<circle cx="393" cy="407" r="2.05" fill="#173b7c"/>
<circle cx="438.9" cy="403.8" r="2.05" fill="#173b7c"/>
<circle cx="474.7" cy="400.8" r="2.05" fill="#173b7c"/>
<polyline points="309.9,365.2 319.7,317.9 324.9,415.3 328.7,415.5 333.5,416 338.2,413.8 343.5,414.3 347.4,414.5 352.3,414.8 356.3,416 374.5,415.8 393,416.5 438.9,413.5 474.7,415" fill="none" stroke="#a4082f" stroke-width="1.2" stroke-linejoin="round"/>
<circle cx="309.9" cy="365.2" r="2.05" fill="#a4082f"/>
<circle cx="319.7" cy="317.9" r="2.05" fill="#a4082f"/>
<circle cx="324.9" cy="415.3" r="2.05" fill="#a4082f"/>
<circle cx="328.7" cy="415.5" r="2.05" fill="#a4082f"/>
<circle cx="333.5" cy="416" r="2.05" fill="#a4082f"/>
<circle cx="338.2" cy="413.8" r="2.05" fill="#a4082f"/>
<circle cx="343.5" cy="414.3" r="2.05" fill="#a4082f"/>
<circle cx="347.4" cy="414.5" r="2.05" fill="#a4082f"/>
<circle cx="352.3" cy="414.8" r="2.05" fill="#a4082f"/>
<circle cx="356.3" cy="416" r="2.05" fill="#a4082f"/>
<circle cx="374.5" cy="415.8" r="2.05" fill="#a4082f"/>
<circle cx="393" cy="416.5" r="2.05" fill="#a4082f"/>
<circle cx="438.9" cy="413.5" r="2.05" fill="#a4082f"/>
<circle cx="474.7" cy="415" r="2.05" fill="#a4082f"/>
<g font-family='"Liberation Sans", sans-serif'>
<text x="403.8" y="402.2" font-size="7.2" text-anchor="start" fill="#3d5a98" color="#3d5a98" textLength="13.9" lengthAdjust="spacingAndGlyphs"  style="">LDH</text>
<text x="318.7" y="313.3" font-size="7.6" text-anchor="start" fill="#a8213f" color="#a8213f" textLength="21.9" lengthAdjust="spacingAndGlyphs"  style="">cfDNA</text>
</g>
<rect x="0.6" y="0.6" width="518.8" height="451.8" fill="none" stroke="#000" stroke-width="1.3"/>
</svg>
</body></html>
